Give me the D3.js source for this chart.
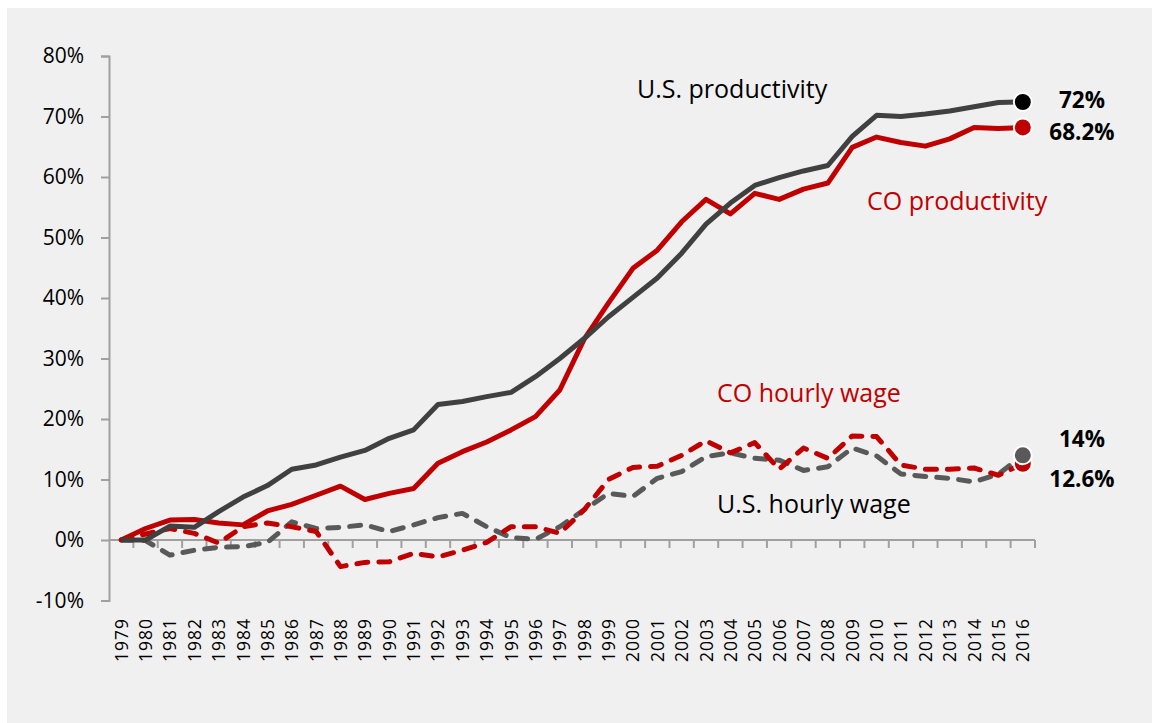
<!DOCTYPE html>
<html>
<head>
<meta charset="utf-8">
<script src="https://cdn.jsdelivr.net/npm/d3@7"></script>
<style>
  html, body { margin: 0; padding: 0; background: #ffffff; }
  svg text { font-family: "Open Sans", "Liberation Sans", sans-serif; }
</style>
</head>
<body>
<svg id="chart" width="1152" height="723"></svg>
<script>
// years along the x axis
const years = d3.range(1979, 2017).map(String);

// percent change since 1979
const usProductivity = [0, 0, 2.3, 2.1, 4.7, 7.1, 9.0, 11.7, 12.4, 13.7, 14.8, 16.8, 18.2, 22.4, 22.9, 23.7, 24.4, 27.0, 30.0, 33.3,
  36.9, 40.1, 43.3, 47.4, 52.2, 55.7, 58.6, 59.9, 61.0, 61.9, 66.7, 70.2, 70.0, 70.4, 70.9, 71.6, 72.3, 72.4];
const coProductivity = [0, 1.9, 3.3, 3.4, 2.8, 2.5, 4.8, 5.9, 7.4, 8.9, 6.7, 7.7, 8.5, 12.7, 14.6, 16.2, 18.2, 20.4, 24.8, 33.2,
  39.2, 44.9, 47.9, 52.6, 56.3, 53.9, 57.3, 56.3, 58.0, 59.0, 64.9, 66.6, 65.7, 65.1, 66.3, 68.2, 68.0, 68.2];
const usWage = [0, -0.1, -2.5, -1.7, -1.2, -1.1, -0.4, 3.0, 1.9, 2.1, 2.5, 1.4, 2.5, 3.7, 4.4, 2.2, 0.4, 0.1, 2.2, 5.0,
  7.7, 7.2, 10.2, 11.3, 13.8, 14.4, 13.5, 13.2, 11.5, 12.1, 15.2, 13.9, 10.9, 10.5, 10.2, 9.6, 10.9, 14.0];
const coWage = [0, 1.0, 1.9, 1.1, -0.5, 2.2, 2.8, 2.2, 1.4, -4.4, -3.7, -3.6, -2.2, -2.8, -1.7, -0.4, 2.2, 2.2, 1.1, 5.0,
  10.0, 12.0, 12.2, 14.0, 16.4, 14.4, 16.1, 11.7, 15.2, 13.5, 17.2, 17.1, 12.4, 11.7, 11.7, 11.9, 10.7, 12.6];

const yTicks = [-10, 0, 10, 20, 30, 40, 50, 60, 70, 80];

const endLabels = ["72%", "68.2%", "14%", "12.6%"];

const svg = d3.select("#chart");

// gray panel
svg.append("rect")
  .attr("x", 7).attr("y", 8)
  .attr("width", 1152 - 7).attr("height", 723 - 8)
  .attr("fill", "#f0f0f0");

const x = d3.scaleBand().domain(years).range([109, 1035]).paddingInner(0).paddingOuter(0);
const y = d3.scaleLinear().domain([-10, 80]).range([600.5, 56]);
const cx = d => x(d) + x.bandwidth() / 2;

const axisColor = "#a0a0a0";

// y axis
const yAxis = svg.append("g")
  .attr("transform", "translate(109,0)")
  .call(d3.axisLeft(y).tickValues(yTicks).tickSize(8).tickPadding(17).tickFormat(d => d + "%"));
yAxis.select(".domain").attr("stroke", axisColor).attr("stroke-width", 2);
yAxis.selectAll(".tick line").attr("stroke", axisColor).attr("stroke-width", 2);
yAxis.selectAll(".tick text")
  .attr("font-size", 21)
  .attr("fill", "#000")
  .style("font-family", "'Open Sans', sans-serif");

// x axis line at 0%
svg.append("line")
  .attr("x1", 109).attr("x2", x.range()[1])
  .attr("y1", y(0)).attr("y2", y(0))
  .attr("stroke", axisColor).attr("stroke-width", 2);

const boundaries = years.slice(1).map(d => x(d)).concat([x.range()[1]]);
svg.append("g").selectAll("line")
  .data(boundaries)
  .enter().append("line")
  .attr("x1", d => d).attr("x2", d => d)
  .attr("y1", y(0)).attr("y2", y(0) + 8)
  .attr("stroke", axisColor).attr("stroke-width", 2);

// year labels at the bottom
svg.append("g").selectAll("text")
  .data(years)
  .enter().append("text")
  .attr("transform", d => "translate(" + cx(d) + ",618) rotate(-90)")
  .attr("text-anchor", "end")
  .attr("dy", "0.37em")
  .attr("font-size", 17.5)
  .attr("letter-spacing", 1)
  .attr("fill", "#000")
  .text(d => d);

// lines
const line = d3.line()
  .x((d, i) => cx(years[i]))
  .y(d => y(d));

const series = [
  { values: usWage, color: "#595959", dash: "11,11" },
  { values: coWage, color: "#c00000", dash: "11,11" },
  { values: coProductivity, color: "#c00000", dash: null },
  { values: usProductivity, color: "#404040", dash: null }
];

svg.append("g").selectAll("path")
  .data(series)
  .enter().append("path")
  .attr("d", d => line(d.values))
  .attr("fill", "none")
  .attr("stroke", d => d.color)
  .attr("stroke-width", 5)
  .attr("stroke-linejoin", "round")
  .attr("stroke-linecap", d => d.dash ? "round" : "butt")
  .attr("stroke-dasharray", d => d.dash);

// end markers
const last = years[years.length - 1];
const markers = [
  { v: coProductivity[coProductivity.length - 1], color: "#c00000" },
  { v: usProductivity[usProductivity.length - 1], color: "#000000" },
  { v: coWage[coWage.length - 1], color: "#c00000" },
  { v: usWage[usWage.length - 1], color: "#595959" }
];
svg.append("g").selectAll("circle")
  .data(markers)
  .enter().append("circle")
  .attr("cx", cx(last))
  .attr("cy", d => y(d.v))
  .attr("r", 9)
  .attr("fill", d => d.color)
  .attr("stroke", "#ffffff")
  .attr("stroke-width", 2);

// end value labels
const endY = [108, 140, 447, 487];
svg.append("g").selectAll("text")
  .data(endLabels)
  .enter().append("text")
  .attr("x", 1082)
  .attr("y", (d, i) => endY[i])
  .attr("text-anchor", "middle")
  .attr("font-size", 22.5)
  .attr("font-weight", "bold")
  .attr("fill", "#000")
  .text(d => d);

// series names
const names = [
  { text: "U.S. productivity", x: 637, y: 98, color: "#000000" },
  { text: "CO productivity", x: 867, y: 210, color: "#c00000" },
  { text: "CO hourly wage", x: 717, y: 402, color: "#c00000" },
  { text: "U.S. hourly wage", x: 717, y: 513, color: "#000000" }
];
svg.append("g").selectAll("text")
  .data(names)
  .enter().append("text")
  .attr("x", d => d.x)
  .attr("y", d => d.y)
  .attr("font-size", 25)
  .attr("fill", d => d.color)
  .text(d => d.text);
</script>
</body>
</html>
